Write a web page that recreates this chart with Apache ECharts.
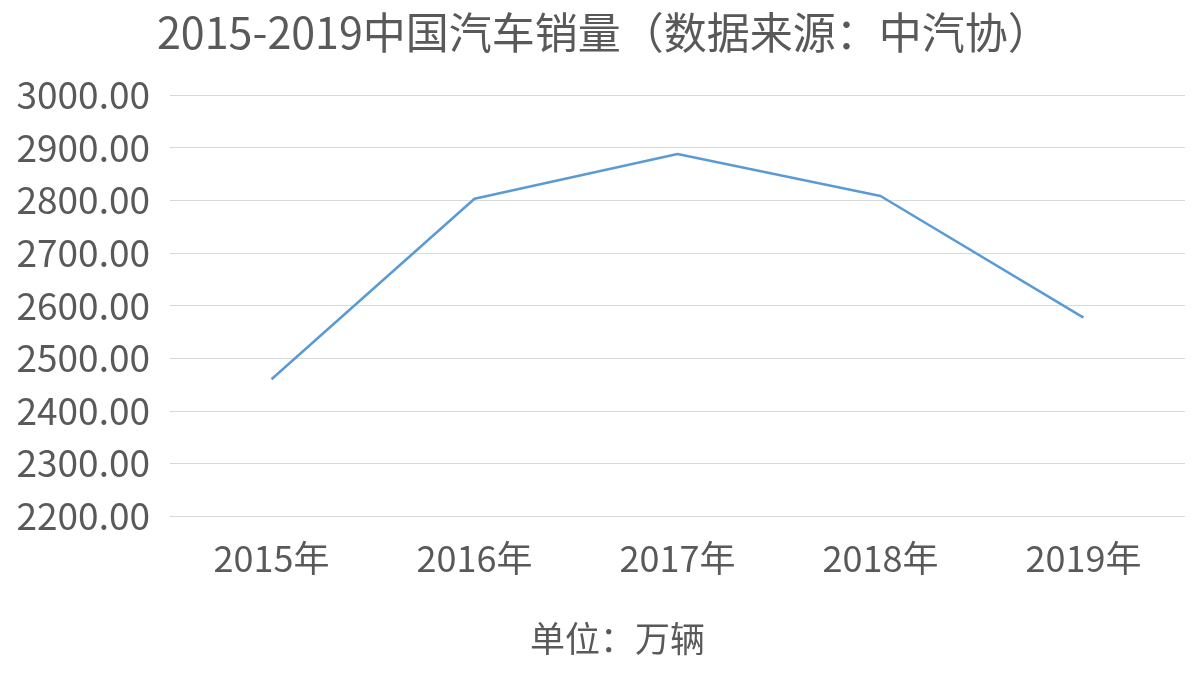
<!DOCTYPE html>
<html lang="zh">
<head>
    <meta charset="UTF-8">
    <title>2015-2019中国汽车销量</title>
    <script src="https://cdn.jsdelivr.net/npm/echarts@6/dist/echarts.min.js"></script>
    <style>body{margin:0;background:#fff;}</style>
</head>
<body>
    <div id="chart" style="width:1200px;height:675px;"></div>
<script>
// 数据
var years = ['2015年', '2016年', '2017年', '2018年', '2019年'];
var sales = [2459.80, 2802.82, 2888, 2808.1, 2576.9];
var labelText = ['2459.80', '2802.82', '2888', '2808.1', '2576.9'];
var font = '"Noto Sans CJK SC", "Noto Sans", sans-serif';

var myChart = echarts.init(document.getElementById('chart'));
var option = {
    backgroundColor: '#ffffff',
    textStyle: { fontFamily: font },
    title: {
        text: '2015-2019中国汽车销量（数据来源：中汽协）',
        left: 152, top: 6,
        textStyle: { fontSize: 43, fontWeight: 'normal', color: '#595959', fontFamily: font }
    },
    legend: {
        bottom: 14, left: 'center',
        itemWidth: 30, itemHeight: 3, itemGap: 10,
        icon: 'rect',
        textStyle: { fontSize: 35, color: '#595959', fontFamily: font },
        data: ['单位：万辆']
    },
    grid: { left: 170, right: 15, top: 95, bottom: 159 },
    xAxis: {
        type: 'category',
        data: years,
        boundaryGap: true,
        axisLine: { show: false },
        axisTick: { show: false },
        axisLabel: { fontSize: 36, color: '#595959', margin: 24, fontFamily: font }
    },
    yAxis: {
        type: 'value',
        min: 2200, max: 3000, interval: 100,
        axisLine: { show: false },
        axisTick: { show: false },
        splitLine: { lineStyle: { color: '#d9d9d9', width: 1 } },
        axisLabel: {
            fontSize: 37, color: '#595959', margin: 20, fontFamily: font,
            formatter: function (v) { return v.toFixed(2); }
        }
    },
    series: [{
        name: '单位：万辆',
        type: 'line',
        data: sales,
        symbol: 'circle',
        symbolSize: 1,
        showSymbol: true,
        itemStyle: { opacity: 0 },
        color: '#5b9bd5',
        lineStyle: { width: 2.5, color: '#5b9bd5' },
        label: {
            show: true,
            position: 'right',
            align: 'left',
            verticalAlign: 'middle',
            offset: [4, 26],
            fontSize: 35, color: '#404040', fontFamily: font,
            formatter: function (p) { return labelText[p.dataIndex]; }
        },
        labelLayout: { hideOverlap: false }
    }]
};
myChart.setOption(option);
</script>
</body>
</html>
